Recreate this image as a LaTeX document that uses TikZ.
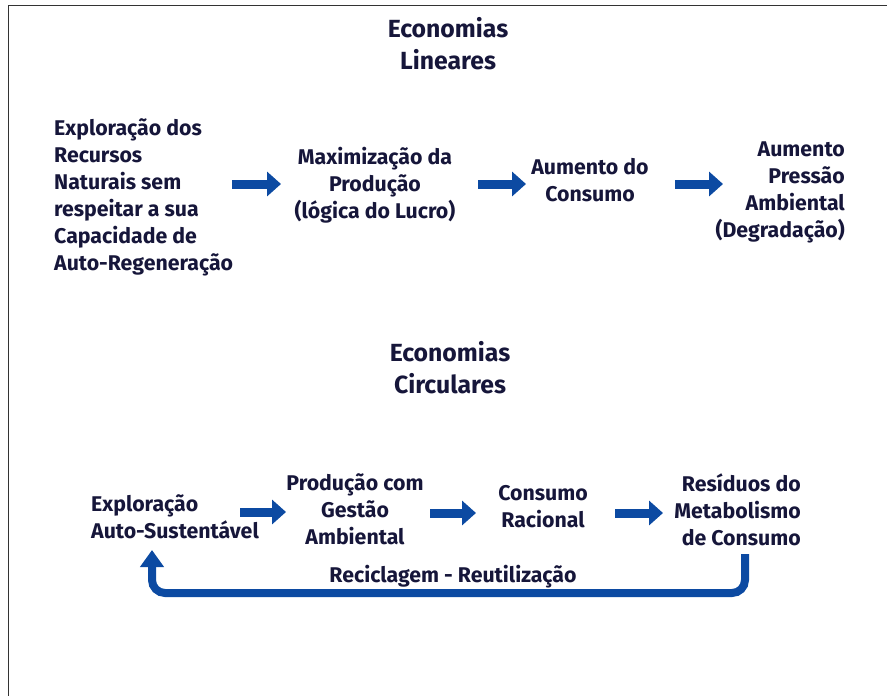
\documentclass[tikz,border=0pt]{standalone}
\usepackage{fontspec}
\setmainfont{Fira Sans}
\usetikzlibrary{arrows.meta}
\definecolor{txt}{RGB}{22,22,58}
\definecolor{arr}{RGB}{12,74,162}
\tikzset{
  lbl/.style={text=txt, inner sep=0pt, font=\fontsize{21.3}{27}\selectfont\bfseries},
  ttl/.style={text=txt, inner sep=0pt, align=center, font=\fontsize{24.8}{32}\selectfont\bfseries},
  blk/.style={draw=arr, line width=9pt, -{Triangle[length=14pt,width=24pt]}},
  loop/.style={draw=arr, line width=8pt, rounded corners=13pt, -{Triangle[length=17pt,width=23pt]}},
  frame/.style={draw=black!80, line width=1.6pt}
}
\begin{document}
\begin{tikzpicture}[x=1pt,y=-1pt]
\useasboundingbox (0,0) rectangle (887,696);
\fill[white] (0,0) rectangle (887,696);
\draw[frame] (8.5,696) -- (8.5,5.5) -- (887,5.5);

% titles
\node[ttl] (t1) at (448,44) {Economias\\Lineares};
\node[ttl] (t2) at (450,368) {Economias\\Circulares};

% linear row
\node[lbl, align=left, anchor=west] (l1) at (54,197) {Exploração dos\\Recursos\\Naturais sem\\respeitar a sua\\Capacidade de\\Auto-Regeneração};
\node[lbl, align=center] (l2) at (375,185) {Maximização da\\Produção\\(lógica do Lucro)};
\node[lbl, align=center] (l3) at (590,180) {Aumento do\\Consumo};
\node[lbl, align=right, anchor=east] (l4) at (845,192) {Aumento\\Pressão\\Ambiental\\(Degradação)};

\coordinate (a1s) at (232,184); \coordinate (a1e) at (281,184);
\coordinate (a2s) at (478,184); \coordinate (a2e) at (526,184);
\coordinate (a3s) at (675,184); \coordinate (a3e) at (723,184);
\draw[blk] (a1s) -- (a1e);
\draw[blk] (a2s) -- (a2e);
\draw[blk] (a3s) -- (a3e);

% circular row
\node[lbl, align=left, anchor=west] (c1) at (91,517) {Exploração\\Auto-Sustentável};
\node[lbl, align=center] (c2) at (355,509) {Produção com\\Gestão\\Ambiental};
\node[lbl, align=center] (c3) at (543,507) {Consumo\\Racional};
\node[lbl, align=right, anchor=east] (c4) at (801,510) {Resíduos do\\Metabolismo\\de Consumo};
\node[lbl] (rr) at (453,577) {Reciclagem - Reutilização};

\coordinate (b1s) at (240,512); \coordinate (b1e) at (286,512);
\coordinate (b2s) at (430,513); \coordinate (b2e) at (476,513);
\coordinate (b3s) at (615,513); \coordinate (b3e) at (663,513);
\draw[blk] (b1s) -- (b1e);
\draw[blk] (b2s) -- (b2e);
\draw[blk] (b3s) -- (b3e);

\coordinate (ls) at (745,554);
\coordinate (le) at (152,550);
\draw[loop] (ls) -- (745,593) -- (152,593) -- (le);
\end{tikzpicture}
\end{document}
